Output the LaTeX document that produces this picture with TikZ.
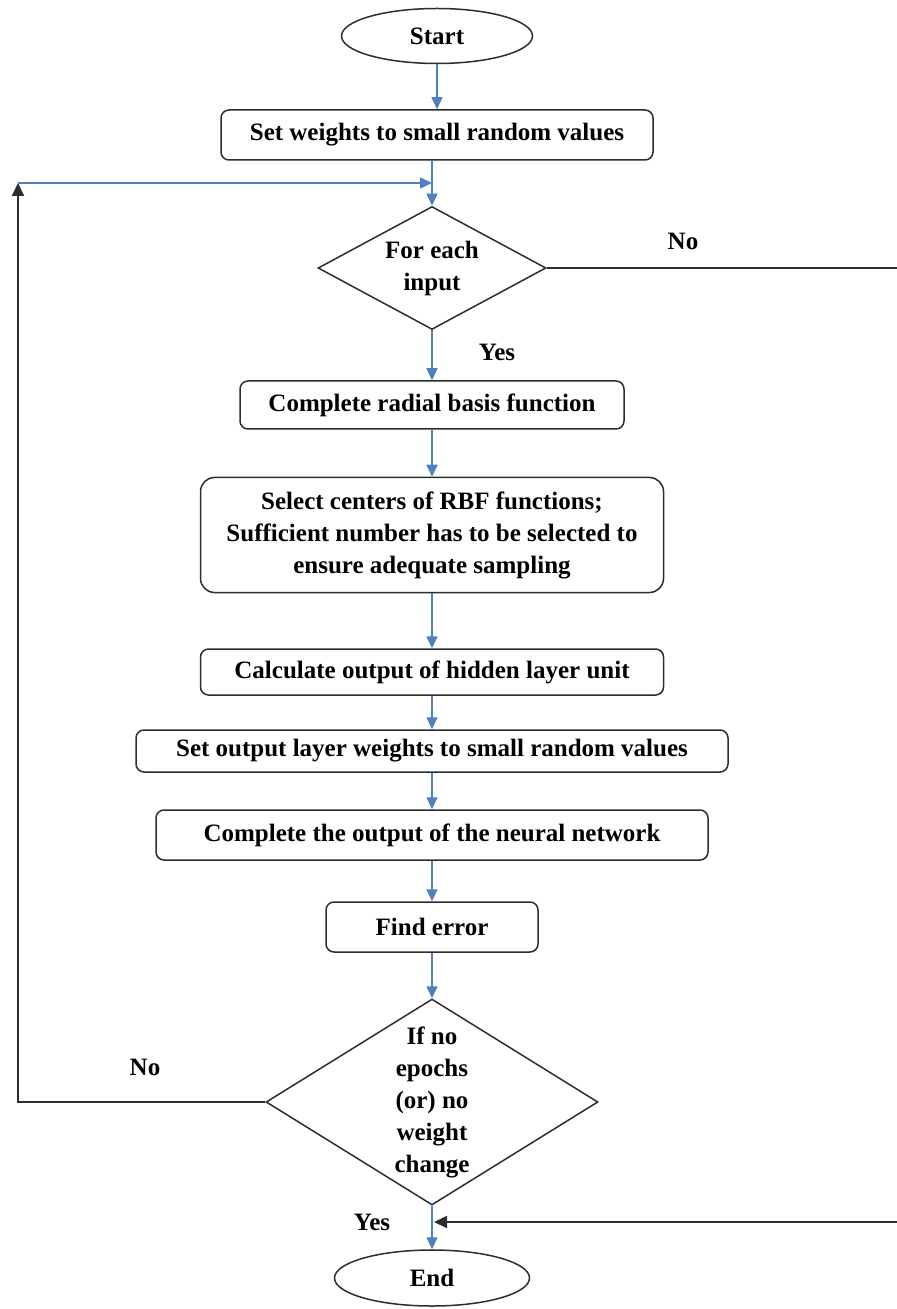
\documentclass[tikz,border=0pt]{standalone}
\usepackage{fontspec}
\setmainfont{Liberation Serif}
\usetikzlibrary{arrows.meta,shapes.geometric,calc}
\definecolor{arrblue}{RGB}{79,129,189}
\definecolor{linegray}{RGB}{45,45,45}
\newcommand{\flowfont}{\fontsize{12.5}{16}\selectfont\bfseries}
\tikzset{
  blk/.style={draw=linegray, rectangle, rounded corners=4pt, line width=0.75pt, align=center, inner sep=2pt, font=\flowfont},
  term/.style={draw=linegray, ellipse, line width=0.75pt, inner sep=0pt, font=\flowfont},
  dec/.style={draw=linegray, diamond, aspect=1.7, line width=0.75pt, align=center, inner sep=0pt, font=\flowfont},
  lbl/.style={font=\flowfont},
  arr/.style={draw=arrblue, line width=0.8pt, -{Triangle[length=6pt, width=5.5pt]}},
  barr/.style={draw=linegray, line width=0.9pt, -{Triangle[length=6.5pt, width=6pt]}},
}

\begin{document}
\begin{tikzpicture}[x=0.5pt, y=-0.5pt]
\useasboundingbox (0,0) rectangle (897,1309);

% Blocks
\node[term, minimum width=95.5pt, minimum height=27.5pt] (start) at (437,36) {Start};
\node[blk, minimum width=216pt, minimum height=25pt] (setw) at (437,135) {Set weights to small random values};
\node[dec, minimum width=114pt, minimum height=61.5pt] (each) at (432,268) {For each\\input};
\node[blk, minimum width=192pt, minimum height=24pt] (rbf) at (432,405) {Complete radial basis function};
\node[blk, rounded corners=7pt, minimum width=231.5pt, minimum height=57.5pt] (ctr) at (432,535)
  {Select centers of RBF functions;\\Sufficient number has to be selected to\\ensure adequate sampling};
\node[blk, minimum width=231.5pt, minimum height=23pt] (hid) at (432,672) {Calculate output of hidden layer unit};
\node[blk, minimum width=296pt, minimum height=21pt] (outw) at (432,751) {Set output layer weights to small random values};
\node[blk, minimum width=276pt, minimum height=25pt] (net) at (432,835) {Complete the output of the neural network};
\node[blk, minimum width=106pt, minimum height=25pt] (err) at (432,927) {Find error};
\node[dec, minimum width=165pt, minimum height=103pt] (stop) at (432,1102) {If no\\epochs\\(or) no\\weight\\change};
\node[term, minimum width=97.5pt, minimum height=28pt] (end) at (432,1278) {End};

% Labels
\node[lbl] (noa) at (683,241) {No};
\node[lbl] (yesa) at (497,352) {Yes};
\node[lbl] (nob) at (145,1067) {No};
\node[lbl] (yesb) at (372,1222) {Yes};

% Main flow
\draw[arr] (start) -- (setw);
\draw[arr] (each.north |- setw.south) -- (each.north);
\foreach \a/\b in {each/rbf, rbf/ctr, ctr/hid, hid/outw, outw/net, net/err, err/stop, stop/end}
  \draw[arr] (\a) -- (\b);

% Loop back
\coordinate (lpc) at (18,183);
\draw[barr] (stop.west) -| (lpc);
\draw[arr] (lpc) -- (each.north |- lpc);

% Exit on No
\coordinate (rt) at (906,268);
\coordinate (yj) at (434,1222);
\draw[barr] (each.east) -- (rt) |- (yj);

\end{tikzpicture}
\end{document}
